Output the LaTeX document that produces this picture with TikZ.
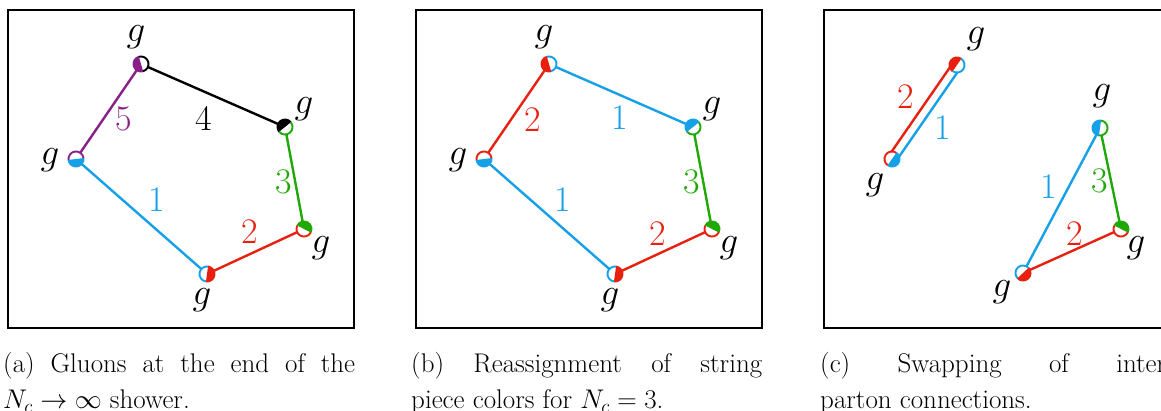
\RequirePackage{fix-cm}
\documentclass[tikz,border=0pt]{standalone}
\usetikzlibrary{calc}
\definecolor{cblue}{RGB}{22,160,232}
\definecolor{cred}{RGB}{232,32,16}
\definecolor{cgreen}{RGB}{32,168,8}
\definecolor{cpurple}{RGB}{136,32,136}
% #1 centre, #2 direction of filled half (image angle), #3 filled colour, #4 open colour
\newcommand\gluon[4]{%
  \fill[white] (#1) circle (8);
  \fill[#3] (#1) ++(#2-90:8.5) arc[start angle=#2-90, delta angle=180, radius=8.5] -- cycle;
  \draw[#4, line width=1.9pt] (#1) ++(#2+90:7.55) arc[start angle=#2+90, delta angle=180, radius=7.55];
}
\begin{document}
\begin{tikzpicture}[x=1pt,y=-1pt,
  str/.style={line width=2.4pt},
  frame/.style={line width=1.6pt},
  glab/.style={inner sep=0pt, font=\fontsize{37}{37}\selectfont},
  num/.style={inner sep=0pt, font=\fontsize{36}{36}\selectfont},
  captxt/.style={inner sep=0pt, anchor=base west, font=\fontsize{27}{36}\selectfont}]
\clip (0,0) rectangle (1161,410);
% frames
\draw[frame] (8,10) rectangle (354,328);
\draw[frame] (416,10) rectangle (762,328);
\draw[frame] (824,10) rectangle (1180,328);
% ---------- panel (a)
\coordinate (a1) at (141,64);
\coordinate (a2) at (285,127);
\coordinate (a3) at (304,229);
\coordinate (a4) at (207,274);
\coordinate (a5) at (76,159);
\draw[str,black] (a1) -- (a2);
\draw[str,cgreen] (a2) -- (a3);
\draw[str,cred] (a3) -- (a4);
\draw[str,cblue] (a4) -- (a5);
\draw[str,cpurple] (a5) -- (a1);
\gluon{a1}{164}{cpurple}{black}
\gluon{a2}{231}{black}{cgreen}
\gluon{a3}{297}{cgreen}{cred}
\gluon{a4}{8}{cred}{cblue}
\gluon{a5}{83}{cblue}{cpurple}
\node[glab] (ga1) at (136,37) {$g$};
\node[glab] (ga2) at (304,109) {$g$};
\node[glab] (ga3) at (321,248) {$g$};
\node[glab] (ga4) at (202,300) {$g$};
\node[glab] (ga5) at (50,160) {$g$};
\node[num,cpurple] (na5) at (124,119) {5};
\node[num,black] (na4) at (204,118) {4};
\node[num,cgreen] (na3) at (284,182) {3};
\node[num,cblue] (na1) at (157,200) {1};
\node[num,cred] (na2) at (250,232) {2};
% ---------- panel (b)
\coordinate (b1) at (549,64);
\coordinate (b2) at (693,127);
\coordinate (b3) at (712,229);
\coordinate (b4) at (615,274);
\coordinate (b5) at (484,159);
\draw[str,cblue] (b1) -- (b2);
\draw[str,cgreen] (b2) -- (b3);
\draw[str,cred] (b3) -- (b4);
\draw[str,cblue] (b4) -- (b5);
\draw[str,cred] (b5) -- (b1);
\gluon{b1}{164}{cred}{cblue}
\gluon{b2}{231}{cblue}{cgreen}
\gluon{b3}{297}{cgreen}{cred}
\gluon{b4}{8}{cred}{cblue}
\gluon{b5}{83}{cblue}{cred}
\node[glab] (gb1) at (544,37) {$g$};
\node[glab] (gb2) at (712,109) {$g$};
\node[glab] (gb3) at (729,248) {$g$};
\node[glab] (gb4) at (610,300) {$g$};
\node[glab] (gb5) at (458,160) {$g$};
\node[num,cred] (nb2a) at (533,120) {2};
\node[num,cblue] (nb1a) at (620,118) {1};
\node[num,cgreen] (nb3) at (692,182) {3};
\node[num,cblue] (nb1b) at (563,200) {1};
\node[num,cred] (nb2b) at (658,234) {2};
% ---------- panel (c)
\coordinate (c1) at (957,65);
\coordinate (c2) at (892,159);
\coordinate (c3) at (1100,128);
\coordinate (c4) at (1121,229);
\coordinate (c5) at (1023,273);
\draw[str,cred] ($(c2)+(214.7:4.5)$) -- ($(c1)+(214.7:4.5)$);
\draw[str,cblue] ($(c2)+(34.7:4.5)$) -- ($(c1)+(34.7:4.5)$);
\draw[str,cgreen] (c3) -- (c4);
\draw[str,cred] (c4) -- (c5);
\draw[str,cblue] (c5) -- (c3);
\gluon{c1}{214.7}{cred}{cblue}
\gluon{c2}{34.7}{cblue}{cred}
\gluon{c3}{188}{cblue}{cgreen}
\gluon{c4}{297}{cgreen}{cred}
\gluon{c5}{47}{cred}{cblue}
\node[glab] (gc1) at (976,39) {$g$};
\node[glab] (gc2) at (875,185) {$g$};
\node[glab] (gc3) at (1102,96) {$g$};
\node[glab] (gc4) at (1136,248) {$g$};
\node[glab] (gc5) at (1002,292) {$g$};
\node[num,cred] (nc2a) at (906,97) {2};
\node[num,cblue] (nc1a) at (943,128) {1};
\node[num,cblue] (nc1b) at (1049,187) {1};
\node[num,cgreen] (nc3) at (1100,181) {3};
\node[num,cred] (nc2b) at (1075,234) {2};
% ---------- captions
\node[captxt] (capa1) at (3,372) {\makebox[352pt][s]{(a) Gluons at the end of the}};
\node[captxt] (capa2) at (3,408) {$N_c \to \infty$ shower.};
\node[captxt] (capb1) at (411,372) {\makebox[351pt][s]{(b) Reassignment of string}};
\node[captxt] (capb2) at (411,408) {piece colors for $N_c = 3$.};
\node[captxt] (capc1) at (820,372) {\makebox[346pt][s]{(c) Swapping of inter}};
\node[captxt] (capc2) at (820,408) {parton connections.};
\end{tikzpicture}
\end{document}
